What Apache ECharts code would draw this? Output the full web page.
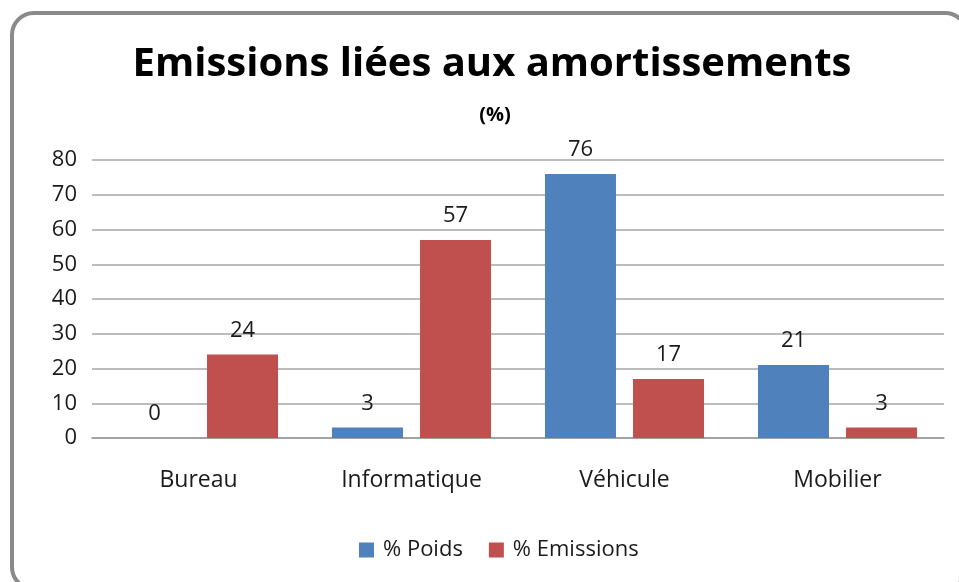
<!DOCTYPE html>
<html>
<head>
<meta charset="utf-8">
<script src="https://cdn.jsdelivr.net/npm/echarts@6/dist/echarts.min.js"></script>
<style>
  html, body { margin: 0; padding: 0; background: #fff; }
  #main { width: 959px; height: 582px; }
</style>
</head>
<body>
<div id="main"></div>
<script>
// données
var categories = ['Bureau', 'Informatique', 'Véhicule', 'Mobilier']
var poids = [0, 3, 76, 21]
var emissions = [24, 57, 17, 3]

var myChart = echarts.init(document.getElementById('main'))
var font = 'Open Sans'
var txt = '#1a1a1a'
var option = {
  animation: false,
  color: ['#4F81BD', '#C0504D'],
  title: [
    {
      text: 'Emissions liées aux amortissements',
      left: 487,
      textAlign: 'center',
      top: 40,
      textStyle: { fontFamily: font, fontWeight: 'bold', fontSize: 40, color: '#000' }
    },
    {
      text: '(%)',
      left: 490,
      textAlign: 'center',
      top: 100,
      textStyle: { fontFamily: font, fontWeight: 'bold', fontSize: 20, color: '#000' }
    }
  ],
  // cadre arrondi
  graphic: [{
    type: 'rect',
    silent: true,
    shape: { x: 12, y: 13, width: 955, height: 576, r: 22 },
    style: { fill: 'none', stroke: '#8a8a8a', lineWidth: 4 }
  }],
  legend: {
    bottom: 16,
    left: 354,
    icon: 'rect',
    itemWidth: 15,
    itemHeight: 15,
    itemGap: 26,
    textStyle: { fontFamily: font, fontSize: 22, color: txt, padding: [0, 0, 0, 4] },
    data: ['% Poids', '% Emissions']
  },
  grid: { left: 92, right: 15, top: 160, bottom: 144 },
  xAxis: {
    type: 'category',
    data: categories,
    axisTick: { show: false },
    axisLine: { lineStyle: { color: '#999', width: 1.5 } },
    axisLabel: { margin: 31, fontFamily: font, fontSize: 23, color: txt }
  },
  yAxis: {
    type: 'value',
    min: 0,
    max: 80,
    interval: 10,
    axisLine: { show: false },
    axisTick: { show: false },
    splitLine: { lineStyle: { color: '#a6a6a6', width: 1.5 } },
    axisLabel: { margin: 15, fontFamily: font, fontSize: 22, color: txt }
  },
  series: [
    {
      name: '% Poids',
      type: 'bar',
      data: poids,
      barWidth: 71,
      barGap: '24%',
      label: { show: true, position: 'top', distance: 13, fontFamily: font, fontSize: 22, color: txt }
    },
    {
      name: '% Emissions',
      type: 'bar',
      data: emissions,
      barWidth: 71,
      barGap: '24%',
      label: { show: true, position: 'top', distance: 13, fontFamily: font, fontSize: 22, color: txt }
    }
  ]
}
option && myChart.setOption(option)
</script>
</body>
</html>
